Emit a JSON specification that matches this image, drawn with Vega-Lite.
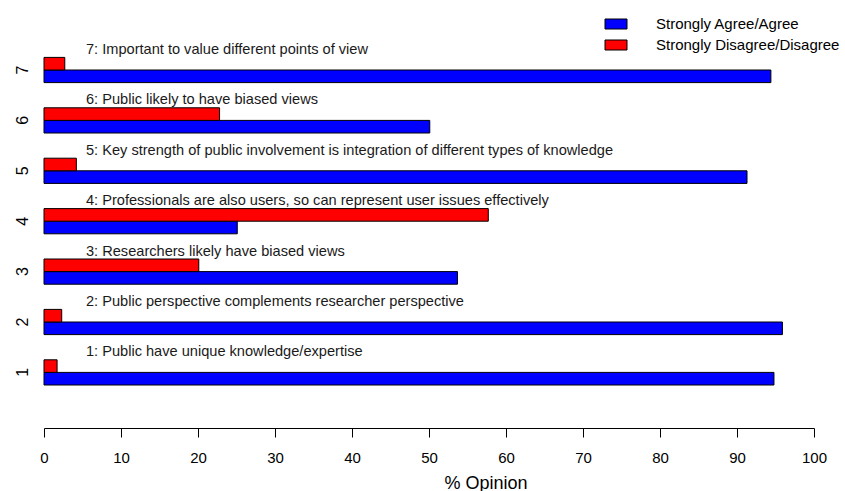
{
  "$schema": "https://vega.github.io/schema/vega-lite/v6.json",
  "width": 770,
  "height": 352.8,
  "autosize": {"type": "none"},
  "padding": {"left": 44, "top": 44.8, "right": 31, "bottom": 93.4},
  "background": "white",
  "config": {"view": {"stroke": null}, "font": "Liberation Sans"},
  "layer": [
    {
      "data": {"values": [
        {"item": 1, "series": "Strongly Agree/Agree", "value": 94.8},
        {"item": 1, "series": "Strongly Disagree/Disagree", "value": 1.7},
        {"item": 2, "series": "Strongly Agree/Agree", "value": 95.9},
        {"item": 2, "series": "Strongly Disagree/Disagree", "value": 2.3},
        {"item": 3, "series": "Strongly Agree/Agree", "value": 53.7},
        {"item": 3, "series": "Strongly Disagree/Disagree", "value": 20.1},
        {"item": 4, "series": "Strongly Agree/Agree", "value": 25.1},
        {"item": 4, "series": "Strongly Disagree/Disagree", "value": 57.7},
        {"item": 5, "series": "Strongly Agree/Agree", "value": 91.3},
        {"item": 5, "series": "Strongly Disagree/Disagree", "value": 4.2},
        {"item": 6, "series": "Strongly Agree/Agree", "value": 50.1},
        {"item": 6, "series": "Strongly Disagree/Disagree", "value": 22.8},
        {"item": 7, "series": "Strongly Agree/Agree", "value": 94.4},
        {"item": 7, "series": "Strongly Disagree/Disagree", "value": 2.7}
      ]},
      "mark": {"type": "bar", "stroke": "black", "strokeWidth": 1},
      "encoding": {
        "y": {
          "field": "item", "type": "ordinal",
          "scale": {"domain": [7, 6, 5, 4, 3, 2, 1], "paddingInner": 0.5, "paddingOuter": 0.25},
          "axis": {"title": null, "domain": false, "ticks": false, "labelAngle": -90, "labelAlign": "center", "labelBaseline": "alphabetic", "labelPadding": 17, "labelFontSize": 16, "labelColor": "black"}
        },
        "yOffset": {
          "field": "series", "type": "nominal",
          "scale": {"domain": ["Strongly Disagree/Disagree", "Strongly Agree/Agree"], "paddingInner": 0, "paddingOuter": 0}
        },
        "x": {
          "field": "value", "type": "quantitative",
          "scale": {"domain": [0, 100], "nice": false},
          "axis": {"title": "% Opinion", "offset": 30.4, "grid": false, "values": [0, 10, 20, 30, 40, 50, 60, 70, 80, 90, 100], "tickSize": 9, "tickColor": "black", "domainColor": "black", "labelFontSize": 15, "labelPadding": 13, "labelColor": "black", "labelFlush": false, "labelOverlap": false, "titleFontSize": 18, "titleFontWeight": "normal", "titleColor": "black", "titleX": 441.5, "titleY": 60, "titleAlign": "center", "titleBaseline": "alphabetic"}
        },
        "color": {
          "field": "series", "type": "nominal",
          "scale": {"domain": ["Strongly Agree/Agree", "Strongly Disagree/Disagree"], "range": ["#0000FF", "#FF0000"]},
          "legend": {"orient": "none", "legendX": 564.5, "legendY": -28.3, "title": null, "symbolType": "M-2,-0.909H2V0.909H-2Z", "symbolSize": 121, "symbolStrokeColor": "black", "symbolStrokeWidth": 1, "symbolOpacity": 1, "labelFontSize": 15, "labelOffset": 32.5, "labelLimit": 0, "rowPadding": 5, "padding": 0, "labelColor": "black"}
        }
      }
    },
    {
      "data": {"values": [
        {"item": 1, "label": "1: Public have unique knowledge/expertise"},
        {"item": 2, "label": "2: Public perspective complements researcher perspective"},
        {"item": 3, "label": "3: Researchers likely have biased views"},
        {"item": 4, "label": "4: Professionals are also users, so can represent user issues effectively"},
        {"item": 5, "label": "5: Key strength of public involvement is integration of different types of knowledge"},
        {"item": 6, "label": "6: Public likely to have biased views"},
        {"item": 7, "label": "7: Important to value different points of view"}
      ]},
      "mark": {"type": "text", "align": "left", "baseline": "alphabetic", "dy": -16, "fontSize": 14.6, "color": "#1a1a1a"},
      "encoding": {
        "y": {"field": "item", "type": "ordinal"},
        "x": {"datum": 5.45, "type": "quantitative"},
        "text": {"field": "label"}
      }
    }
  ]
}
